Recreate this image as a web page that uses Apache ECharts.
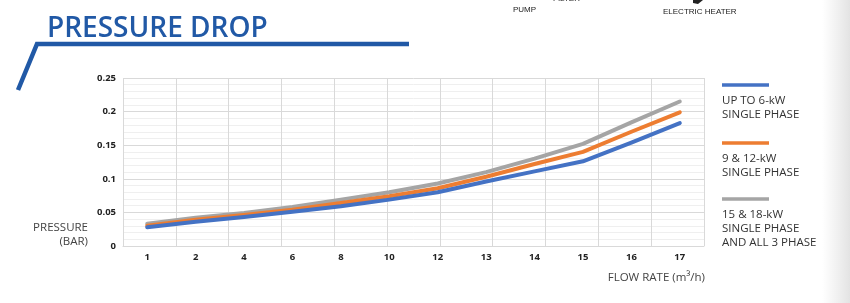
<!DOCTYPE html>
<html>
<head>
<meta charset="utf-8">
<script src="https://cdn.jsdelivr.net/npm/echarts@6/dist/echarts.min.js"></script>
<style>
html,body{margin:0;padding:0;background:#fff;}
#c{width:850px;height:303px;}
</style>
</head>
<body>
<div id="c"></div>
<script>
var categories = ['1','2','4','6','8','10','12','13','14','15','16','17'];
var seriesNames = ['UP TO 6-kW\nSINGLE PHASE', '9 & 12-kW\nSINGLE PHASE', '15 & 18-kW\nSINGLE PHASE\nAND ALL 3 PHASE'];
var upTo6kW = [0.028, 0.036, 0.043, 0.051, 0.059, 0.069, 0.080, 0.096, 0.111, 0.126, 0.154, 0.183];
var kW9and12 = [0.030, 0.039, 0.046, 0.054, 0.064, 0.074, 0.086, 0.103, 0.122, 0.140, 0.170, 0.199];
var kW15and18 = [0.033, 0.042, 0.049, 0.058, 0.069, 0.080, 0.093, 0.110, 0.130, 0.152, 0.184, 0.215];
var yTicks = [0, 0.05, 0.1, 0.15, 0.2, 0.25];
var colors = ['#4472C4', '#ED7D31', '#A5A5A5'];

var chart = echarts.init(document.getElementById('c'), null, {renderer: 'canvas'});
var font = '"Open Sans", "Noto Sans", sans-serif';

var legendGraphics = [];
var legendY = [85, 143, 199];
seriesNames.forEach(function (name, i) {
  legendGraphics.push({
    type: 'line', shape: {x1: 722, y1: legendY[i], x2: 769, y2: legendY[i]},
    style: {stroke: colors[i], lineWidth: 3.5}
  });
  legendGraphics.push({
    type: 'text', left: 722, top: legendY[i] + 9,
    style: {text: name, fill: '#333', font: '400 11.5px ' + font, lineHeight: 14}
  });
});

var option = {
  animation: false,
  backgroundColor: '#fff',
  grid: {left: 123, right: 146, top: 78, bottom: 57, containLabel: false},
  xAxis: [{
    type: 'category', data: categories, boundaryGap: true,
    axisTick: {show: false},
    axisLine: {show: true, lineStyle: {color: '#d9d9d9', width: 1}},
    axisLabel: {color: '#222', fontFamily: font, fontWeight: 700, fontSize: 9.5, margin: 6},
    splitLine: {show: false}
  }, {
    type: 'value', min: 0, max: 11, interval: 1, position: 'top',
    axisLabel: {show: false}, axisTick: {show: false}, axisLine: {show: false},
    splitLine: {show: true, lineStyle: {color: '#d9d9d9', width: 1}}
  }],
  yAxis: {
    type: 'value', min: 0, max: 0.25, interval: 0.05,
    axisLine: {show: false}, axisTick: {show: false},
    axisLabel: {color: '#222', fontFamily: font, fontWeight: 700, fontSize: 9.5, margin: 7,
      formatter: function (v) { return String(+v.toFixed(2)); }},
    splitLine: {lineStyle: {color: '#d9d9d9', width: 1}},
    minorTick: {show: false, splitNumber: 5},
    minorSplitLine: {show: true, lineStyle: {color: '#efefef', width: 1}}
  },
  series: [
    {name: seriesNames[0], type: 'line', data: upTo6kW, xAxisIndex: 0, symbol: 'none',
      lineStyle: {color: colors[0], width: 4, cap: 'round', join: 'round'}, z: 4},
    {name: seriesNames[1], type: 'line', data: kW9and12, xAxisIndex: 0, symbol: 'none',
      lineStyle: {color: colors[1], width: 4, cap: 'round', join: 'round'}, z: 3},
    {name: seriesNames[2], type: 'line', data: kW15and18, xAxisIndex: 0, symbol: 'none',
      lineStyle: {color: colors[2], width: 4, cap: 'round', join: 'round'}, z: 2}
  ],
  graphic: [
    {type: 'rect', shape: {x: 822, y: 0, width: 28, height: 303}, silent: true,
      style: {fill: new echarts.graphic.LinearGradient(0, 0, 1, 0, [
        {offset: 0, color: 'rgba(230,230,230,0)'}, {offset: 1, color: '#e3e3e3'}])}},
    {type: 'text', left: 47, top: 15,
      style: {text: 'PRESSURE DROP', fill: '#2159A6', font: '600 28px ' + font}},
    {type: 'polyline', shape: {points: [[409, 44], [37, 44], [18, 90]]},
      style: {stroke: '#2159A6', lineWidth: 4.5, fill: null}},
    {type: 'text', left: 513, top: 6,
      style: {text: 'PUMP', fill: '#222', font: '8px "Liberation Sans", Arial, sans-serif'}},
    {type: 'text', left: 553, top: -5,
      style: {text: 'FILTER', fill: '#222', font: '8px "Liberation Sans", Arial, sans-serif'}},
    {type: 'text', left: 663, top: 8,
      style: {text: 'ELECTRIC HEATER', fill: '#222', font: '8px "Liberation Sans", Arial, sans-serif'}},
    {type: 'polygon', shape: {points: [[693, 0], [700, 0], [703, 0], [698, 4], [693, 3]]},
      style: {fill: '#222'}},
    {type: 'text', right: 850 - 88, top: 222,
      style: {text: 'PRESSURE', fill: '#444', font: '400 11.5px ' + font}},
    {type: 'text', right: 850 - 88, top: 236,
      style: {text: '(BAR)', fill: '#444', font: '400 11.5px ' + font}},
    {type: 'text', right: 850 - 705, top: 272,
      style: {text: 'FLOW RATE (m³/h)', fill: '#444', font: '400 11.5px ' + font}}
  ].concat(legendGraphics)
};
chart.setOption(option);
</script>
</body>
</html>
